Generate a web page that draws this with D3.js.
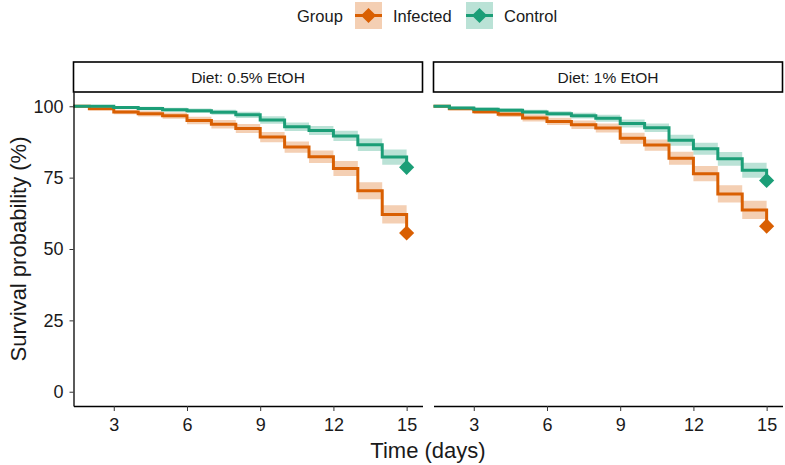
<!DOCTYPE html>
<html>
<head>
<meta charset="utf-8">
<script src="https://cdn.jsdelivr.net/npm/d3@7"></script>
<style>
  body { margin: 0; background: #fff; }
  text { font-family: "Liberation Sans", Arial, sans-serif; fill: #1a1a1a; }
</style>
</head>
<body>
<div class="chart-area"></div>
<script>
// survival curves, two facets (diet), two groups

// ---- Data ----
const days = [1, 2, 3, 4, 5, 6, 7, 8, 9, 10, 11, 12, 13, 14, 15];
const xTicks = [3, 6, 9, 12, 15];
const yTicks = [0, 25, 50, 75, 100];
const groups = ["Infected", "Control"];
const diets = ["Diet: 0.5% EtOH", "Diet: 1% EtOH"];

// survival (%) per day, value holds until next day
const infected05 = [100, 99.1, 98.0, 97.4, 96.7, 95.0, 93.7, 92.2, 89.2, 85.7, 82.3, 78.2, 70.4, 62.1, 55.6];
const control05  = [100, 100, 99.6, 99.2, 98.8, 98.4, 97.9, 97.0, 95.2, 92.8, 91.5, 89.6, 86.5, 82.2, 78.6];
const infected1  = [100, 99.1, 98.1, 97.2, 95.9, 94.7, 93.5, 92.4, 88.8, 86.4, 81.8, 76.4, 69.3, 63.7, 58.0];
const control1   = [100, 99.4, 99.0, 98.6, 98.0, 97.4, 96.7, 95.8, 94.0, 92.5, 88.1, 85.1, 81.6, 77.6, 74.0];

// half width of confidence band (%)
const infected05Ci = [0, 0.5, 0.8, 1.0, 1.1, 1.3, 1.5, 1.6, 1.8, 2.0, 2.2, 2.6, 3.0, 3.2, 3.3];
const control05Ci  = [0, 0, 0.4, 0.6, 0.7, 0.8, 0.9, 1.1, 1.3, 1.5, 1.6, 1.8, 2.2, 2.7, 2.9];
const infected1Ci  = [0, 0.5, 0.8, 1.0, 1.2, 1.3, 1.5, 1.6, 1.9, 2.0, 2.3, 2.7, 3.0, 3.2, 3.3];
const control1Ci   = [0, 0.5, 0.6, 0.7, 0.8, 0.9, 1.0, 1.2, 1.4, 1.5, 1.9, 2.1, 2.4, 2.6, 2.8];

const panels = [
    { title: diets[0], series: [
        { group: groups[0], surv: infected05, ci: infected05Ci },
        { group: groups[1], surv: control05, ci: control05Ci } ] },
    { title: diets[1], series: [
        { group: groups[0], surv: infected1, ci: infected1Ci },
        { group: groups[1], surv: control1, ci: control1Ci } ] }
];

const colors = { Infected: "#D95F02", Control: "#1B9E77" };

// ---- Sizes ----
const svgWidth = 785, svgHeight = 465;
const panelX = [73.5, 433.5];
const panelW = 349;
const panelTop = 92, panelBottom = 406;
const stripTop = 62;

const svg = d3.select(".chart-area").append("svg")
    .attr("width", svgWidth)
    .attr("height", svgHeight);

const x = d3.scaleLinear().domain([1.35, 15.65]).range([0, panelW]);
const y = d3.scaleLinear().domain([-5, 105]).range([panelBottom, panelTop]);

const line = d3.line()
    .x((d, i) => x(days[i]))
    .y(d => y(d))
    .curve(d3.curveStepAfter);

const area = d3.area()
    .x(d => x(d.day))
    .y0(d => y(d.lo))
    .y1(d => y(d.hi))
    .curve(d3.curveStepAfter);

const diamond = d3.symbol().type(d3.symbolSquare).size(115);

svg.append("defs").append("clipPath")
    .attr("id", "panel-clip")
    .append("rect")
    .attr("x", 0).attr("y", panelTop)
    .attr("width", panelW).attr("height", panelBottom - panelTop);

panels.forEach((p, pi) => {
    const g = svg.append("g").attr("transform", `translate(${panelX[pi]},0)`);

    // strip
    g.append("rect")
        .attr("x", 0).attr("y", stripTop)
        .attr("width", panelW).attr("height", panelTop - stripTop)
        .attr("fill", "#fff")
        .attr("stroke", "#000")
        .attr("stroke-width", 1.6);
    g.append("text")
        .attr("x", panelW / 2)
        .attr("y", (stripTop + panelTop) / 2)
        .attr("dy", "0.36em")
        .attr("text-anchor", "middle")
        .style("font-size", "15.5px")
        .text(p.title);

    const plot = g.append("g").attr("clip-path", "url(#panel-clip)");

    // confidence ribbons
    p.series.forEach(s => {
        const band = s.surv.map((v, i) => ({
            day: days[i],
            lo: v - s.ci[i],
            hi: Math.min(100, v + s.ci[i])
        }));
        plot.append("path")
            .attr("d", area(band))
            .attr("fill", colors[s.group])
            .attr("fill-opacity", 0.3);
    });

    // survival lines
    p.series.forEach(s => {
        plot.append("path")
            .attr("d", line(s.surv))
            .attr("fill", "none")
            .attr("stroke", colors[s.group])
            .attr("stroke-width", 3);
    });

    // end markers
    p.series.forEach(s => {
        const last = s.surv.length - 1;
        g.append("path")
            .attr("d", diamond())
            .attr("transform", `translate(${x(days[last])},${y(s.surv[last])}) rotate(45)`)
            .attr("fill", colors[s.group]);
    });

    // x axis
    const xAxis = g.append("g")
        .attr("transform", `translate(0,${panelBottom})`)
        .call(d3.axisBottom(x).tickValues(xTicks).tickSize(5).tickSizeOuter(0).tickPadding(7));
    xAxis.select(".domain").attr("stroke", "#000").attr("stroke-width", 1.3);
    xAxis.selectAll(".tick line").attr("stroke", "#333");
    xAxis.selectAll(".tick text").style("font-size", "18px").attr("fill", "#1a1a1a");

    // y axis on first panel only
    if (pi === 0) {
        const yAxis = g.append("g")
            .call(d3.axisLeft(y).tickValues(yTicks).tickSize(4).tickSizeOuter(0).tickPadding(6));
        yAxis.select(".domain").attr("stroke", "#000").attr("stroke-width", 1.3);
        yAxis.selectAll(".tick line").attr("stroke", "#333");
        yAxis.selectAll(".tick text").style("font-size", "18px").attr("fill", "#1a1a1a");
    }
});

// axis titles
svg.append("text")
    .attr("x", (panelX[0] + panelX[1] + panelW) / 2)
    .attr("y", 458)
    .attr("text-anchor", "middle")
    .style("font-size", "22px")
    .text("Time (days)");

svg.append("text")
    .attr("transform", `translate(26,${(panelTop + panelBottom) / 2}) rotate(-90)`)
    .attr("text-anchor", "middle")
    .style("font-size", "22px")
    .text("Survival probability (%)");

// legend
const legend = svg.append("g").attr("class", "legend");
legend.append("text")
    .attr("x", 297).attr("y", 22)
    .style("font-size", "16.5px")
    .text("Group");

const keyX = [355, 466];
groups.forEach((grp, i) => {
    const k = legend.append("g").attr("transform", `translate(${keyX[i]},2)`);
    k.append("rect")
        .attr("width", 27).attr("height", 27)
        .attr("fill", colors[grp])
        .attr("fill-opacity", 0.3);
    k.append("line")
        .attr("x1", 0).attr("x2", 27)
        .attr("y1", 13.5).attr("y2", 13.5)
        .attr("stroke", colors[grp])
        .attr("stroke-width", 3);
    k.append("path")
        .attr("d", diamond())
        .attr("transform", "translate(13.5,13.5) rotate(45)")
        .attr("fill", colors[grp]);
    k.append("text")
        .attr("x", 38).attr("y", 20)
        .style("font-size", "16.5px")
        .text(grp);
});
</script>
</body>
</html>
